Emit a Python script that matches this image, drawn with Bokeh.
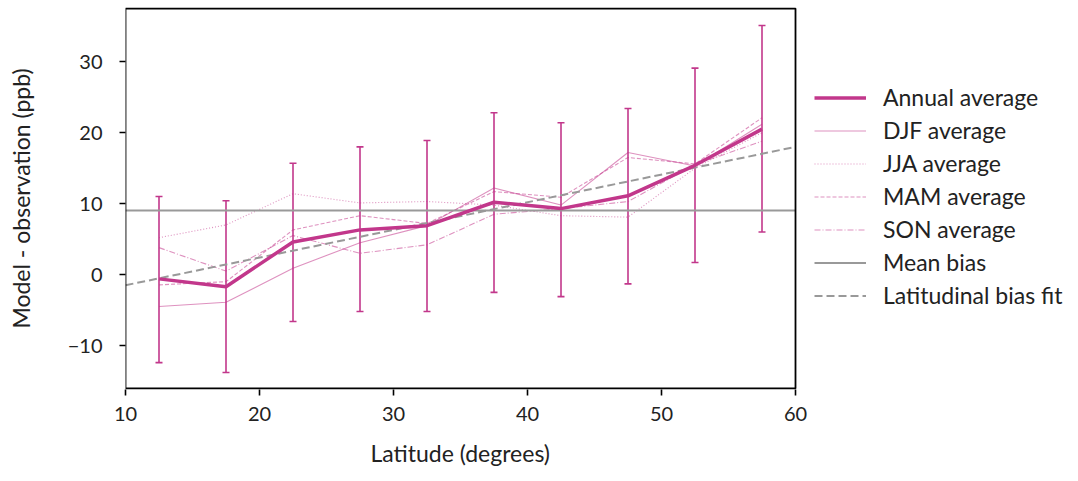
from bokeh.plotting import figure
from bokeh.models import (ColumnDataSource, Whisker, TeeHead, Legend, LegendItem, BoxAnnotation,
                          Range1d, CustomJSTickFormatter, FixedTicker, CDSView, IndexFilter, Title)
from bokeh.embed import file_html
from bokeh.resources import INLINE

# ---- data ----
lat = [12.5, 17.5, 22.5, 27.5, 32.5, 37.5, 42.5, 47.5, 52.5, 57.5]
annual = [-0.6, -1.7, 4.6, 6.3, 6.9, 10.2, 9.3, 11.1, 15.4, 20.5]
annual_upper = [11.0, 10.4, 15.7, 18.0, 18.9, 22.8, 21.4, 23.4, 29.1, 35.1]
annual_lower = [-12.4, -13.8, -6.6, -5.2, -5.2, -2.5, -3.1, -1.3, 1.7, 6.0]
djf = [-4.5, -3.9, 0.9, 4.5, 6.9, 12.2, 9.8, 17.2, 15.3, 21.2]
jja = [5.2, 7.0, 11.4, 10.1, 10.3, 9.8, 8.3, 8.1, 15.0, 20.0]
mam = [-1.45, -1.0, 6.3, 8.3, 7.2, 11.7, 10.9, 16.5, 15.6, 22.1]
son = [3.8, 0.5, 5.5, 3.0, 4.2, 8.5, 9.3, 10.3, 15.5, 18.8]
mean_bias = 9.05
fit_slope = 0.39
fit_intercept = -5.4
x_ticks = [10, 20, 30, 40, 50, 60]
y_ticks = [-10, 0, 10, 20, 30]

FONT = "Lato"
FS_TICK = "20px"
FS_LAB = "23px"
MAG = "#c2378b"
GRAY = "#999999"
TXT = "#222222"

# layout: the axes box spans x0..x1 (670 px); the frame continues to the right
# edge of the figure so that the legend can sit beside the box.
W, H = 1078, 481
LEFT, TOP, BOTTOM = 125, 7, 92
BOX_W, BOX_H, PAD = 670, 380, 1
x0, x1 = 10, 60
y0, y1 = -16.05, 37.5
x_end = x1 + (W - LEFT - BOX_W) * (x1 - x0) / BOX_W
y_pad = PAD * (y1 - y0) / BOX_H

p = figure(width=W, height=H, output_backend="svg", toolbar_location=None,
           x_range=Range1d(x0, x_end), y_range=Range1d(y0 - y_pad, y1 + y_pad),
           min_border_left=LEFT, min_border_top=TOP, min_border_right=0, min_border_bottom=BOTTOM)
p.grid.visible = False
p.outline_line_color = None
p.background_fill_color = "white"
p.border_fill_color = "white"

# axes box
p.add_layout(BoxAnnotation(left=x0, right=x1, bottom=y0, top=y1, fill_alpha=0,
                           line_color="black", line_alpha=1.0, line_width=1.8))

# seasonal lines
r_djf = p.line(lat, djf, line_color=MAG, line_alpha=0.55, line_width=1.1)
r_jja = p.line(lat, jja, line_color=MAG, line_alpha=0.55, line_width=1.1, line_dash="1 2")
r_mam = p.line(lat, mam, line_color=MAG, line_alpha=0.55, line_width=1.1, line_dash="4 2")
r_son = p.line(lat, son, line_color=MAG, line_alpha=0.55, line_width=1.1, line_dash="6 2 1 2")

# mean bias
r_mean = p.line([x0, x1], [mean_bias, mean_bias], line_color=GRAY, line_width=2)

# fit
fx = [x0, x1]
fy = [fit_intercept + fit_slope * v for v in fx]
r_fit = p.line(fx, fy, line_color=GRAY, line_width=2, line_dash="8 4")

# annual with error bars
src = ColumnDataSource(dict(x=lat, y=annual, upper=annual_upper, lower=annual_lower))
wh = Whisker(source=src, base="x", upper="upper", lower="lower", line_color=MAG, line_width=1.6,
             upper_head=TeeHead(size=7, line_color=MAG, line_width=1.6),
             lower_head=TeeHead(size=7, line_color=MAG, line_width=1.6))
p.add_layout(wh)
r_ann = p.line("x", "y", source=src, line_color=MAG, line_width=3.5)
r_ann_leg = p.scatter("x", "y", source=src, view=CDSView(filter=IndexFilter([])),
                      marker="cross", size=24, line_color=MAG, line_width=1.6)

# axes
for ax in (p.xaxis[0], p.yaxis[0]):
    ax.axis_line_width = 1.8
    ax.major_tick_line_width = 1.6
    ax.major_tick_out = 6
    ax.major_tick_in = 0
    ax.minor_tick_line_color = None
    ax.major_label_text_font = FONT
    ax.major_label_text_font_size = FS_TICK
    ax.major_label_text_color = TXT
    ax.axis_label_text_font = FONT
    ax.axis_label_text_font_size = FS_LAB
    ax.axis_label_text_font_style = "normal"
    ax.axis_label_text_color = TXT

p.xaxis.axis_line_color = None
p.yaxis.axis_line_color = None
p.xaxis.ticker = FixedTicker(ticks=x_ticks)
p.yaxis.ticker = FixedTicker(ticks=y_ticks)
p.yaxis.formatter = CustomJSTickFormatter(code="return tick < 0 ? '\u2212' + Math.abs(tick) : String(tick);")
p.xaxis.major_label_standoff = 11
p.yaxis.major_label_standoff = 17
p.yaxis.axis_label = "Model - observation (ppb)"
p.yaxis.axis_label_standoff = 30

# x-axis label centred under the axes box
p.add_layout(Title(text="Latitude (degrees)", align="left", offset=245,
                   text_font=FONT, text_font_size=FS_LAB, text_font_style="normal",
                   text_color=TXT, standoff=27), "below")

legend = Legend(items=[
    LegendItem(label="Annual average", renderers=[r_ann, r_ann_leg]),
    LegendItem(label="DJF average", renderers=[r_djf]),
    LegendItem(label="JJA average", renderers=[r_jja]),
    LegendItem(label="MAM average", renderers=[r_mam]),
    LegendItem(label="SON average", renderers=[r_son]),
    LegendItem(label="Mean bias", renderers=[r_mean]),
    LegendItem(label="Latitudinal bias fit", renderers=[r_fit]),
], location=(BOX_W + 19, 80), border_line_color=None, background_fill_alpha=0,
    label_text_font=FONT, label_text_font_size=FS_LAB, label_text_color=TXT,
    glyph_width=52, glyph_height=23, label_height=23, spacing=5, label_standoff=17,
    padding=6, margin=0)
p.add_layout(legend)

open("out.html", "w").write(file_html(p, INLINE))
